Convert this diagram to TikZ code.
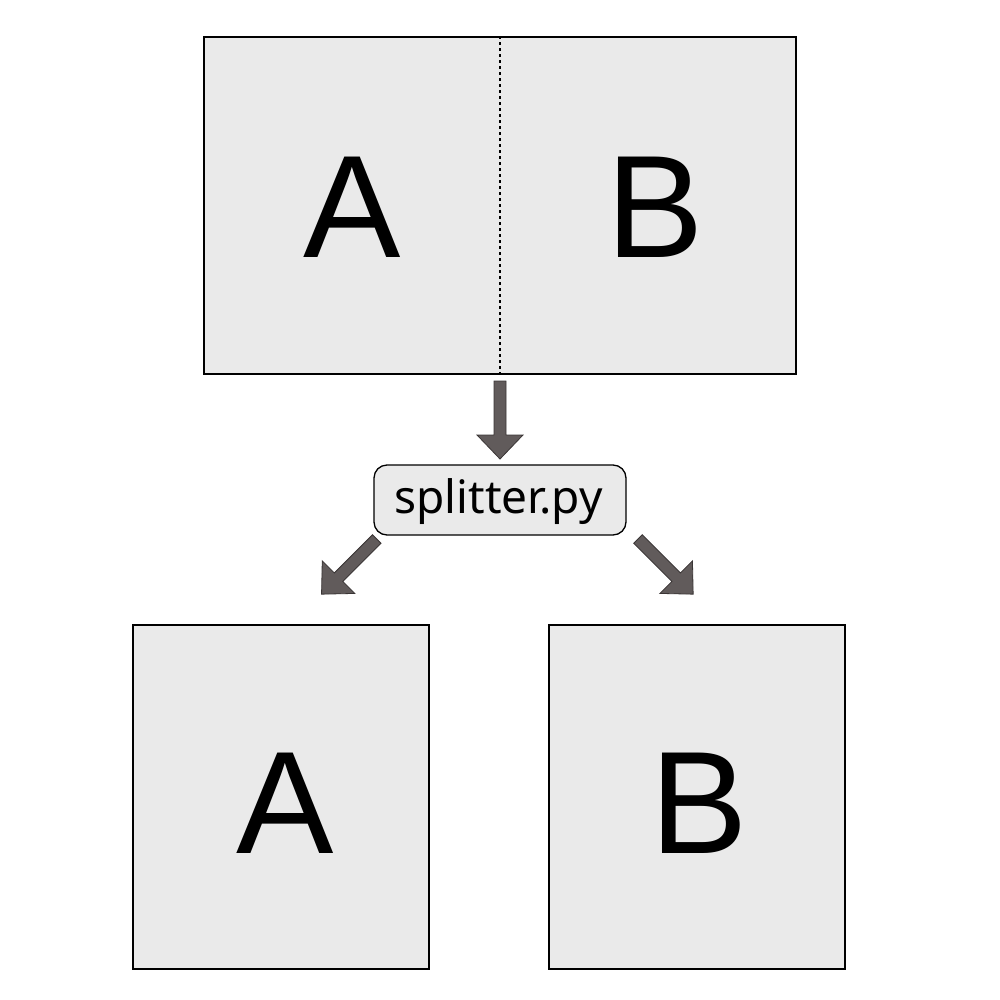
\documentclass[tikz,border=0pt]{standalone}
\usepackage{fontspec}
\setmainfont{Liberation Sans}
\newfontfamily\codefont{Noto Sans}
\definecolor{boxfill}{HTML}{EAEAEA}
\definecolor{arrowfill}{HTML}{615B5B}
\definecolor{arrowline}{HTML}{3A3535}
\tikzset{
  panel/.style={draw=black, line width=1.3pt, fill=boxfill, rectangle, inner sep=0pt},
  letter/.style={inner sep=0pt, font=\fontsize{146}{146}\selectfont, anchor=base},
  tool/.style={draw=black, line width=1.3pt, fill=boxfill, rounded corners=13pt, inner sep=0pt,
    minimum width=252pt, minimum height=70pt},
  toolfont/.style={inner sep=0pt, anchor=base, font=\codefont\fontsize{46}{46}\selectfont},
  fatarrow/.pic={
    \filldraw[fill=arrowfill, draw=arrowline, line width=0.8pt]
      (-6,0) -- (6,0) -- (6,54) -- (23,54) -- (0,78) -- (-23,54) -- (-6,54) -- cycle;
  }
}
\begin{document}
\begin{tikzpicture}[x=1pt, y=-1pt]
\useasboundingbox (0,0) rectangle (1000,1000);
% top combined page
\node[panel, minimum width=592pt, minimum height=337pt] (top) at (500,205.5) {};
\draw[line width=1.2pt, dash pattern=on 3pt off 3pt] (top.north) -- (top.south);
\node[letter] (topA) at (352,258) {A};
\node[letter] (topB) at (655.5,258) {B};
% splitter
\node[tool] (split) at (500,500) {};
\node[toolfont] (splittext) at (498.5,513.5) {splitter.py};
% arrows
\pic (arrdown) at (500,381) {fatarrow};
\pic[rotate=-45] (arrleft) at (376.7,539) {fatarrow};
\pic[rotate=45] (arrright) at (638,539) {fatarrow};
% bottom pages
\node[panel, minimum width=296pt, minimum height=344pt] (botA) at (281,797) {};
\node[panel, minimum width=296pt, minimum height=344pt] (botB) at (697,797) {};
\node[letter] (labA) at (285.4,853) {A};
\node[letter] (labB) at (699,853) {B};
\end{tikzpicture}
\end{document}
